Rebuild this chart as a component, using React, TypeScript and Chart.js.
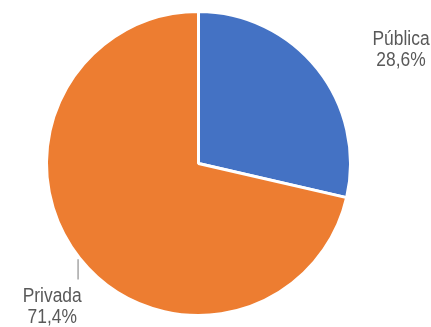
import React, { useEffect, useRef } from "react";
import { Chart, registerables } from "chart.js";

Chart.register(...registerables);

const categories = ["Pública", "Privada"];
const values = [28.6, 71.4];
const valueLabels = ["28,6%", "71,4%"];
const colors = ["#4472C4", "#ED7D31"];

const labelPlugin = {
  id: "sliceLabels",
  afterDatasetsDraw(chart: any) {
    const ctx = chart.ctx;
    const meta = chart.getDatasetMeta(0);
    ctx.save();
    meta.data.forEach((arc: any, i: number) => {
      const p = arc.getProps(["x", "y", "startAngle", "endAngle", "outerRadius"], true);
      const mid = (p.startAngle + p.endAngle) / 2;
      const ex = p.x + Math.cos(mid) * p.outerRadius;
      const ey = p.y + Math.sin(mid) * p.outerRadius;
      let lx: number, ly: number;
      if (i === 0) {
        lx = ex + p.outerRadius * 0.55;
        ly = ey - p.outerRadius * 0.16;
      } else {
        ctx.strokeStyle = "#A6A6A6";
        ctx.lineWidth = 1.5;
        ctx.beginPath();
        ctx.moveTo(ex - 1.5, ey + 1);
        ctx.lineTo(ex - 1.5, ey + p.outerRadius * 0.14);
        ctx.stroke();
        lx = ex - p.outerRadius * 0.18;
        ly = ey + p.outerRadius * 0.29;
      }
      ctx.save();
      ctx.translate(lx, ly);
      ctx.scale(0.87, 1);
      ctx.font = '20px "Liberation Sans", Arial, sans-serif';
      ctx.fillStyle = "#595959";
      ctx.textAlign = "center";
      ctx.textBaseline = "alphabetic";
      ctx.fillText(categories[i], 0, 0);
      ctx.fillText(valueLabels[i], 0, 21);
      ctx.restore();
    });
    ctx.restore();
  },
};

export default function App() {
  const ref = useRef<HTMLCanvasElement>(null);
  useEffect(() => {
    document.body.style.margin = "0";
    const chart = new Chart(ref.current!, {
      type: "pie",
      data: {
        labels: categories,
        datasets: [
          {
            data: values,
            backgroundColor: colors,
            borderColor: "#FFFFFF",
            borderWidth: 3,
          },
        ],
      },
      options: {
        responsive: false,
        animation: false,
        layout: { padding: { top: 10, bottom: 10, left: 45, right: 79 } },
        plugins: {
          legend: { display: false },
          tooltip: { enabled: false },
        },
      },
      plugins: [labelPlugin],
    });
    return () => chart.destroy();
  }, []);
  return (
    <div style={{ width: 431, height: 327, background: "#fff" }}>
      <canvas ref={ref} width={431} height={327} />
    </div>
  );
}
